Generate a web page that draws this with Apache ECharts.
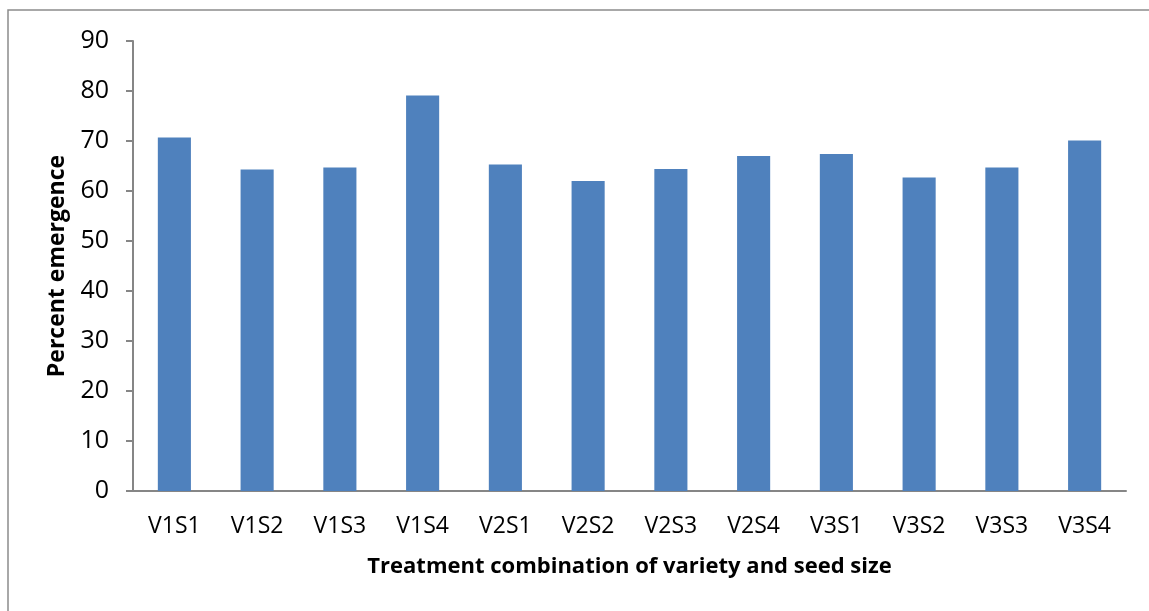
<!DOCTYPE html>
<html>
<head>
<meta charset="utf-8">
<script src="https://cdn.jsdelivr.net/npm/echarts@6/dist/echarts.min.js"></script>
<style>
  html, body { margin: 0; padding: 0; background: #fff; }
  #chart { width: 1149px; height: 611px; }
</style>
</head>
<body>
<div id="chart"></div>
<script>
const categories = ['V1S1', 'V1S2', 'V1S3', 'V1S4', 'V2S1', 'V2S2', 'V2S3', 'V2S4', 'V3S1', 'V3S2', 'V3S3', 'V3S4']
const emergence = [70.7, 64.3, 64.7, 79.1, 65.3, 62.0, 64.4, 67.0, 67.4, 62.7, 64.7, 70.1]

const font = '"Open Sans", sans-serif'
const axisGrey = '#868686'

const chart = echarts.init(document.getElementById('chart'))
chart.setOption({
  animation: false,
  // chart frame, only top and left edges are visible in the picture
  graphic: [
    {
      type: 'polyline',
      shape: { points: [[8, 640], [8, 10], [1160, 10]] },
      style: { stroke: '#8c8c8c', lineWidth: 1.5, fill: null },
    },
  ],
  grid: { left: 133, right: 23, top: 41, bottom: 120 },
  xAxis: {
    type: 'category',
    data: categories,
    name: 'Treatment combination of variety and seed size',
    nameLocation: 'middle',
    nameGap: 65,
    nameTextStyle: { fontFamily: font, fontSize: 22, fontWeight: 'bold', color: '#000' },
    axisLine: { lineStyle: { color: axisGrey, width: 2 } },
    axisTick: { alignWithLabel: false, length: 8, lineStyle: { color: axisGrey, width: 2 } },
    axisLabel: { fontFamily: font, fontSize: 23, color: '#000', margin: 24 },
  },
  yAxis: {
    type: 'value',
    min: 0,
    max: 90,
    interval: 10,
    name: 'Percent emergence',
    nameLocation: 'middle',
    nameGap: 64,
    nameTextStyle: { fontFamily: font, fontSize: 23, fontWeight: 'bold', color: '#000' },
    axisLine: { show: true, lineStyle: { color: axisGrey, width: 2 } },
    axisTick: { show: true, length: 7, lineStyle: { color: axisGrey, width: 2 } },
    axisLabel: { fontFamily: font, fontSize: 25, color: '#000', margin: 24 },
    splitLine: { show: false },
  },
  series: [
    {
      type: 'bar',
      data: emergence,
      barWidth: '40%',
      itemStyle: { color: '#4F81BD' },
    },
  ],
})
</script>
</body>
</html>
